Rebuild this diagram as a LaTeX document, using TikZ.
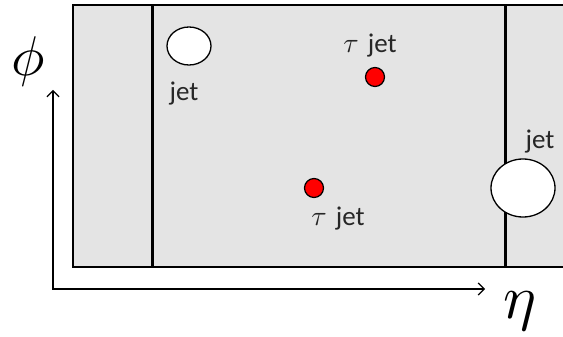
\documentclass[tikz,border=0pt]{standalone}
\usepackage{fontspec}
\newfontfamily\jetfont{Carlito}
\usetikzlibrary{arrows.meta,shapes.geometric}
\definecolor{panel}{HTML}{E4E4E4}
\definecolor{jetred}{HTML}{FF0000}
\tikzset{
  frame/.style={line width=2.6pt, fill=panel},
  divider/.style={line width=3pt},
  axis/.style={line width=1.2pt, {Straight Barb[length=6pt,width=12pt]}-{Straight Barb[length=6pt,width=12pt]}},
  whitejet/.style={ellipse, draw=black, line width=1.3pt, fill=white, inner sep=0pt},
  taujet/.style={circle, draw=black, line width=1.2pt, fill=jetred, minimum size=19pt, inner sep=0pt},
  lbl/.style={font=\jetfont\fontsize{27}{29}\selectfont, text=black!85, inner sep=0pt},
  axlbl/.style={inner sep=0pt}
}
\newcommand{\tauglyph}{\scalebox{2.8}{\normalsize$\tau$}}
\begin{document}
\begin{tikzpicture}[x=1pt,y=-1pt]
\useasboundingbox (0,0) rectangle (563,337);
\begin{scope}
\clip (0,0) rectangle (563,337);
\draw[frame] (73,5) rectangle (600,267);
\coordinate (d1t) at (152,5);
\coordinate (d1b) at (152,267);
\coordinate (d2t) at (505,5);
\coordinate (d2b) at (505,267);
\draw[divider] (d1t) -- (d1b);
\draw[divider] (d2t) -- (d2b);
\node[whitejet, minimum width=44pt, minimum height=38pt] (j1) at (189,46) {};
\node[whitejet, minimum width=64pt, minimum height=58pt] (j2) at (523,188) {};
\end{scope}
\node[taujet] (t1) at (375,77) {};
\node[taujet] (t2) at (314,188) {};
\node[lbl] (l1) at (184,94) {jet};
\node[lbl] (l2) at (540,142) {jet};
\node[lbl, anchor=base] (l3) at (370,53) {\tauglyph\hspace{9pt}jet};
\node[lbl, anchor=base] (l4) at (338,225) {\tauglyph\hspace{9pt}jet};
\coordinate (vt) at (53,90);
\coordinate (ht) at (485,289);
\draw[axis] (vt) |- (ht);
\node[axlbl] (phi) at (28,62) {\scalebox{5.6}{\normalsize$\phi$}};
\node[axlbl] (eta) at (520,311) {\scalebox{6.2}{\normalsize$\eta$}};
\end{tikzpicture}
\end{document}
